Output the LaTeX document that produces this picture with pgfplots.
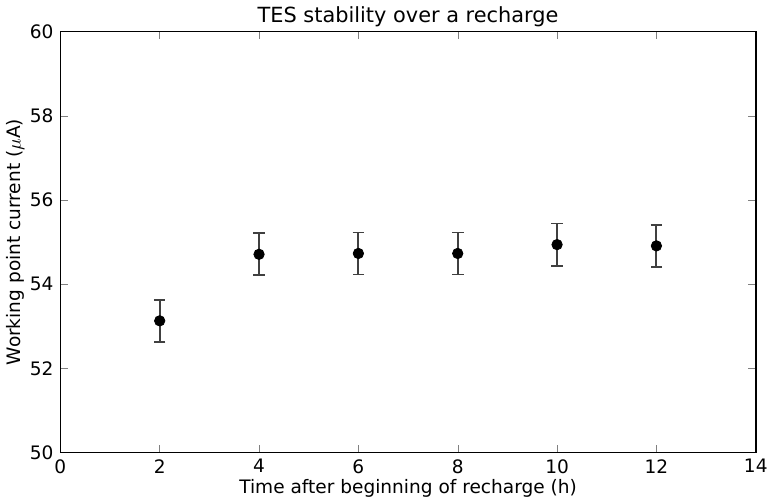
\documentclass[border=0pt]{standalone}
\usepackage{fontspec}
\setmainfont{DejaVu Sans}
\usepackage{pgfplots}
\pgfplotsset{compat=1.18}

\begin{document}
\begin{tikzpicture}
\begin{axis}[
    scale only axis,
    width=360pt, height=218pt,
    xmin=0, xmax=14, ymin=50, ymax=60,
    xtick={0,2,...,14}, ytick={50,52,...,60},
    tick align=inside,
    major tick length=4pt,
    /pgf/number format/assume math mode=true,
    ticklabel style={font=\fontsize{9.6}{12}\selectfont},
    label style={font=\fontsize{9.6}{12}\selectfont},
    title style={font=\fontsize{10.8}{13}\selectfont, yshift=-7pt},
    title={TES stability over a recharge},
    xlabel={Time after beginning of recharge (h)},
    ylabel={Working point current ($\mu$A)},
    xlabel style={yshift=4pt},
    ylabel style={yshift=-4pt},
    axis line style={line width=0.8pt},
]
\addplot[only marks, mark=*, mark size=2.7pt, black,
    error bars/.cd, y dir=both, y explicit,
    error bar style={color=black!75, line width=1pt},
    error mark options={rotate=90, mark size=3pt, line width=0.9pt, color=black!75}]
  table[x=x, y=y, y error=e] {
x  y     e
2  53.13 0.50
4  54.71 0.50
6  54.73 0.50
8  54.73 0.50
10 54.94 0.50
12 54.91 0.50
};
\end{axis}
\end{tikzpicture}
\end{document}
